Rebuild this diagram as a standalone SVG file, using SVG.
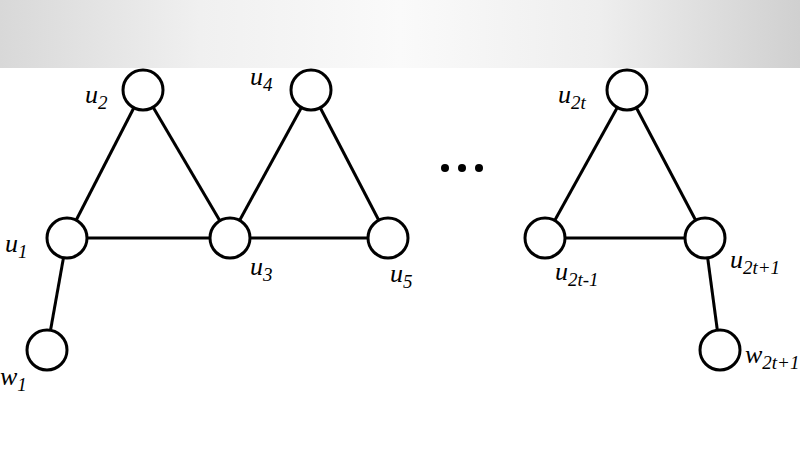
<svg xmlns="http://www.w3.org/2000/svg" width="800" height="450" viewBox="0 0 800 450">
<style>
.n{fill:#fff;stroke:#000;stroke-width:3}
.e{stroke:#000;stroke-width:3;fill:none}
text{font-family:'Liberation Serif','DejaVu Serif',serif;font-style:italic;font-size:26px}
.s{font-size:19px}
</style>
<defs><linearGradient id="g" x1="0" x2="1"><stop offset="0" stop-color="#d8d8d8"/><stop offset="0.25" stop-color="#f0f0f0"/><stop offset="0.5" stop-color="#fafafa"/><stop offset="0.75" stop-color="#eeeeee"/><stop offset="1" stop-color="#d0d0d0"/></linearGradient></defs>
<rect width="800" height="450" fill="#fff"/>
<rect width="800" height="68" fill="url(#g)"/>
<g id="edges">
<line class="e" x1="143" y1="90" x2="67" y2="238"/><line class="e" x1="143" y1="90" x2="230" y2="238"/>
<line class="e" x1="67" y1="238" x2="230" y2="238"/><line class="e" x1="311" y1="90" x2="230" y2="238"/>
<line class="e" x1="311" y1="90" x2="388" y2="238"/><line class="e" x1="230" y1="238" x2="388" y2="238"/>
<line class="e" x1="67" y1="238" x2="47" y2="350"/>
<line class="e" x1="627" y1="90" x2="545" y2="238"/><line class="e" x1="627" y1="90" x2="705" y2="238"/>
<line class="e" x1="545" y1="238" x2="705" y2="238"/><line class="e" x1="705" y1="238" x2="720" y2="350"/>
</g>
<g id="u1"><circle class="n" cx="67" cy="238" r="20"/><text x="5" y="252">u<tspan class="s" dy="6">1</tspan></text></g>
<g id="u2"><circle class="n" cx="143" cy="90" r="20"/><text x="85" y="103">u<tspan class="s" dy="6">2</tspan></text></g>
<g id="u3"><circle class="n" cx="230" cy="238" r="20"/><text x="250" y="275">u<tspan class="s" dy="6">3</tspan></text></g>
<g id="u4"><circle class="n" cx="311" cy="90" r="20"/><text x="250" y="85">u<tspan class="s" dy="6">4</tspan></text></g>
<g id="u5"><circle class="n" cx="388" cy="238" r="20"/><text x="390" y="282">u<tspan class="s" dy="6">5</tspan></text></g>
<g id="w1"><circle class="n" cx="47" cy="350" r="20"/><text x="0" y="385">w<tspan class="s" dy="6">1</tspan></text></g>
<g id="dots"><circle cx="445" cy="168" r="4"/><circle cx="462" cy="168" r="4"/><circle cx="479" cy="168" r="4"/></g>
<g id="u2t"><circle class="n" cx="627" cy="90" r="20"/><text x="558" y="103">u<tspan class="s" dy="6">2t</tspan></text></g>
<g id="u2t-1"><circle class="n" cx="545" cy="238" r="20"/><text x="555" y="280">u<tspan class="s" dy="6">2t-1</tspan></text></g>
<g id="u2t+1"><circle class="n" cx="705" cy="238" r="20"/><text x="730" y="268">u<tspan class="s" dy="6">2t+1</tspan></text></g>
<g id="w2t+1"><circle class="n" cx="720" cy="350" r="20"/><text x="745" y="363">w<tspan class="s" dy="6">2t+1</tspan></text></g>
</svg>
